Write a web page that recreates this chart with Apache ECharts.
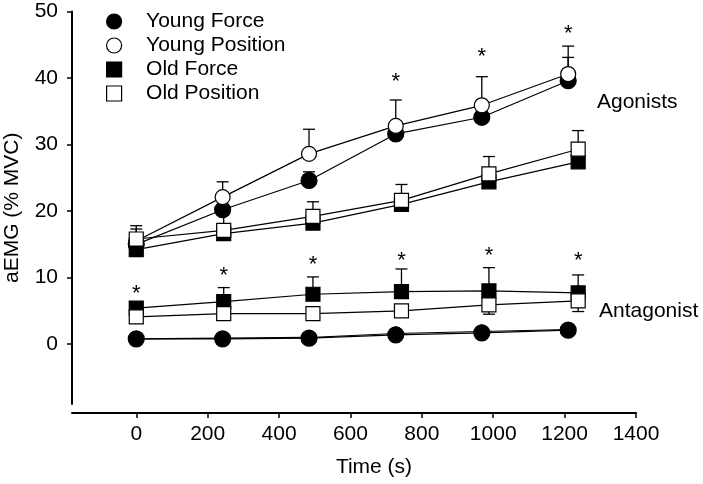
<!DOCTYPE html>
<html>
<head>
<meta charset="utf-8">
<script src="https://cdn.jsdelivr.net/npm/echarts@6/dist/echarts.min.js"></script>
<style>
html,body{margin:0;padding:0;background:#fff;}
#chart{width:703px;height:484px;}
</style>
</head>
<body>
<div id="chart"></div>
<script>
// ---- data ----
const youngTimes = [0, 242, 484, 727, 968, 1210];
const oldTimes = [0, 245, 495, 743, 988, 1238];
const xTicks = [0, 200, 400, 600, 800, 1000, 1200, 1400];
const yTicks = [0, 10, 20, 30, 40, 50];

// Agonists
const youngForceAg = [15.0, 20.2, 24.6, 31.6, 34.1, 39.6];
const youngPosAg = [15.5, 22.1, 28.6, 32.8, 35.9, 40.6];
const oldForceAg = [14.2, 16.6, 18.2, 21.0, 24.4, 27.4];
const oldPosAg = [15.8, 17.1, 19.2, 21.6, 25.6, 29.3];
// upper ends of error bars (null = none visible)
const youngForceAgErr = [null, null, 25.9, null, null, 43.1];
const youngPosAgErr = [17.3, 24.4, 32.3, 36.7, 40.2, 44.8];
const oldPosAgErr = [17.8, 19.5, 21.4, 24.0, 28.2, 32.1];

// Antagonist
const youngForceAnt = [0.8, 0.8, 0.9, 1.4, 1.7, 2.1];
const youngPosAnt = [0.8, 0.9, 1.0, 1.6, 1.9, 2.2];
const oldForceAnt = [5.4, 6.4, 7.5, 7.9, 8.0, 7.7];
const oldPosAnt = [4.1, 4.6, 4.6, 5.0, 5.9, 6.5];
const oldForceAntErr = [null, 8.5, 10.1, 11.3, 11.5, 10.4];
const oldPosAntErrLow = [null, null, null, null, 4.5, 4.9];

// significance markers
const agStarTimes = [727, 968, 1210];
const agStarY = [40.0, 43.7, 47.2];
const antStarTimes = [0, 245, 495, 743, 988, 1238];
const antStarY = [8.1, 10.9, 12.5, 13.1, 13.8, 13.1];

const seriesNames = ['Young Force', 'Young Position', 'Old Force', 'Old Position'];

// ---- build ----
const FONT = "'Liberation Sans', Arial, Helvetica, sans-serif";
const FS = 21;
const zip = (xs, ys) => xs.map((x, i) => [x, ys[i]]);
const SQ = 'path://M0,0L10,0L10,10L0,10Z';

const styleOf = {
  'Young Force': {symbol: 'circle', size: 16, fill: '#000'},
  'Young Position': {symbol: 'circle', size: 15, fill: '#fff'},
  'Old Force': {symbol: 'rect', size: 14, fill: '#000'},
  'Old Position': {symbol: 'rect', size: 14, fill: '#fff'}
};

const groups = [
  ['Young Force', youngTimes, youngForceAg, 0],
  ['Young Position', youngTimes, youngPosAg, 0],
  ['Old Force', oldTimes, oldForceAg, 0],
  ['Old Position', oldTimes, oldPosAg, 0],
  ['Young Position', youngTimes, youngPosAnt, 13],
  ['Young Force', youngTimes, youngForceAnt, 0],
  ['Old Force', oldTimes, oldForceAnt, 0],
  ['Old Position', oldTimes, oldPosAnt, 0]
];

const series = [];
groups.forEach(([name, xs, ys]) => {
  series.push({
    name: name, type: 'line', data: zip(xs, ys), symbol: 'none', z: 2,
    lineStyle: {color: '#000', width: 1.2}, silent: true, animation: false
  });
});

// error bars
const errData = [];
function addErr(xs, ys, ends) {
  xs.forEach((x, i) => { if (ends[i] != null) errData.push([x, ys[i], ends[i]]); });
}
addErr(youngTimes, youngForceAg, youngForceAgErr);
addErr(youngTimes, youngPosAg, youngPosAgErr);
addErr(oldTimes, oldPosAg, oldPosAgErr);
addErr(oldTimes, oldForceAnt, oldForceAntErr);
addErr(oldTimes, oldPosAnt, oldPosAntErrLow);

series.push({
  type: 'custom', z: 1, silent: true, animation: false,
  data: errData,
  renderItem: function (params, api) {
    const p0 = api.coord([api.value(0), api.value(1)]);
    const p1 = api.coord([api.value(0), api.value(2)]);
    const st = {stroke: '#000', lineWidth: 1.3};
    return {
      type: 'group',
      children: [
        {type: 'line', shape: {x1: p0[0], y1: p0[1], x2: p1[0], y2: p1[1]}, style: st},
        {type: 'line', shape: {x1: p1[0] - 6, y1: p1[1], x2: p1[0] + 6, y2: p1[1]}, style: st}
      ]
    };
  }
});

groups.forEach(([name, xs, ys, sz]) => {
  const s = styleOf[name];
  series.push({
    name: name, type: 'scatter', data: zip(xs, ys), z: 3,
    symbol: s.symbol, symbolSize: sz || s.size, silent: true, animation: false,
    itemStyle: {color: s.fill, borderColor: '#000', borderWidth: 1.2, opacity: 1}
  });
});

// asterisks
series.push({
  type: 'custom', z: 4, silent: true, animation: false,
  data: zip(agStarTimes, agStarY).concat(zip(antStarTimes, antStarY)),
  renderItem: function (params, api) {
    const p = api.coord([api.value(0), api.value(1)]);
    return {
      type: 'text', x: p[0], y: p[1] + 4,
      style: {text: '*', fontSize: 22, fontFamily: FONT, fill: '#000', align: 'center', verticalAlign: 'middle'}
    };
  }
});

const legendData = seriesNames.map(n => {
  const s = styleOf[n];
  return {
    name: n,
    icon: s.symbol === 'circle' ? 'circle' : SQ,
    itemStyle: {color: s.fill, borderColor: '#000', borderWidth: 1.2}
  };
});

const option = {
  backgroundColor: '#fff',
  animation: false,
  grid: {left: 72, right: 67, top: 11.5, bottom: 80, containLabel: false, outerBoundsMode: 'none'},
  legend: {
    data: legendData, orient: 'vertical', left: 101, top: 6,
    itemWidth: 54, itemHeight: 15, itemGap: 3, selectedMode: false,
    textStyle: {fontSize: FS, fontFamily: FONT, color: '#000', lineHeight: 21}
  },
  xAxis: {
    type: 'value', min: -180, max: 1400, offset: 9,
    name: 'Time (s)', nameLocation: 'middle', nameGap: 44,
    nameTextStyle: {fontSize: FS, fontFamily: FONT, color: '#000', padding: [0, 0, 0, 40]},
    axisLine: {show: true, onZero: false, lineStyle: {color: '#000', width: 2}},
    axisTick: {show: true, inside: false, length: 5, customValues: xTicks, lineStyle: {color: '#000', width: 1.5}},
    axisLabel: {customValues: xTicks, formatter: v => String(v), fontSize: FS, fontFamily: FONT, color: '#000', margin: 11},
    splitLine: {show: false}
  },
  yAxis: {
    type: 'value', min: -9, max: 50,
    name: 'aEMG (% MVC)', nameLocation: 'middle', nameGap: 49,
    nameTextStyle: {fontSize: FS, fontFamily: FONT, color: '#000'},
    axisLine: {show: true, onZero: false, lineStyle: {color: '#000', width: 2}},
    axisTick: {show: true, inside: false, length: 5, customValues: yTicks, lineStyle: {color: '#000', width: 1.5}},
    axisLabel: {customValues: yTicks, formatter: v => String(v), fontSize: FS, fontFamily: FONT, color: '#000', margin: 14},
    splitLine: {show: false}
  },
  graphic: [
    {type: 'text', x: 597, y: 102, style: {text: 'Agonists', fontSize: FS, fontFamily: FONT, fill: '#000', verticalAlign: 'middle'}},
    {type: 'text', x: 599, y: 311, style: {text: 'Antagonist', fontSize: FS, fontFamily: FONT, fill: '#000', verticalAlign: 'middle'}}
  ],
  series: series
};

const chart = echarts.init(document.getElementById('chart'), null, {renderer: 'canvas'});
chart.setOption(option);
</script>
</body>
</html>
